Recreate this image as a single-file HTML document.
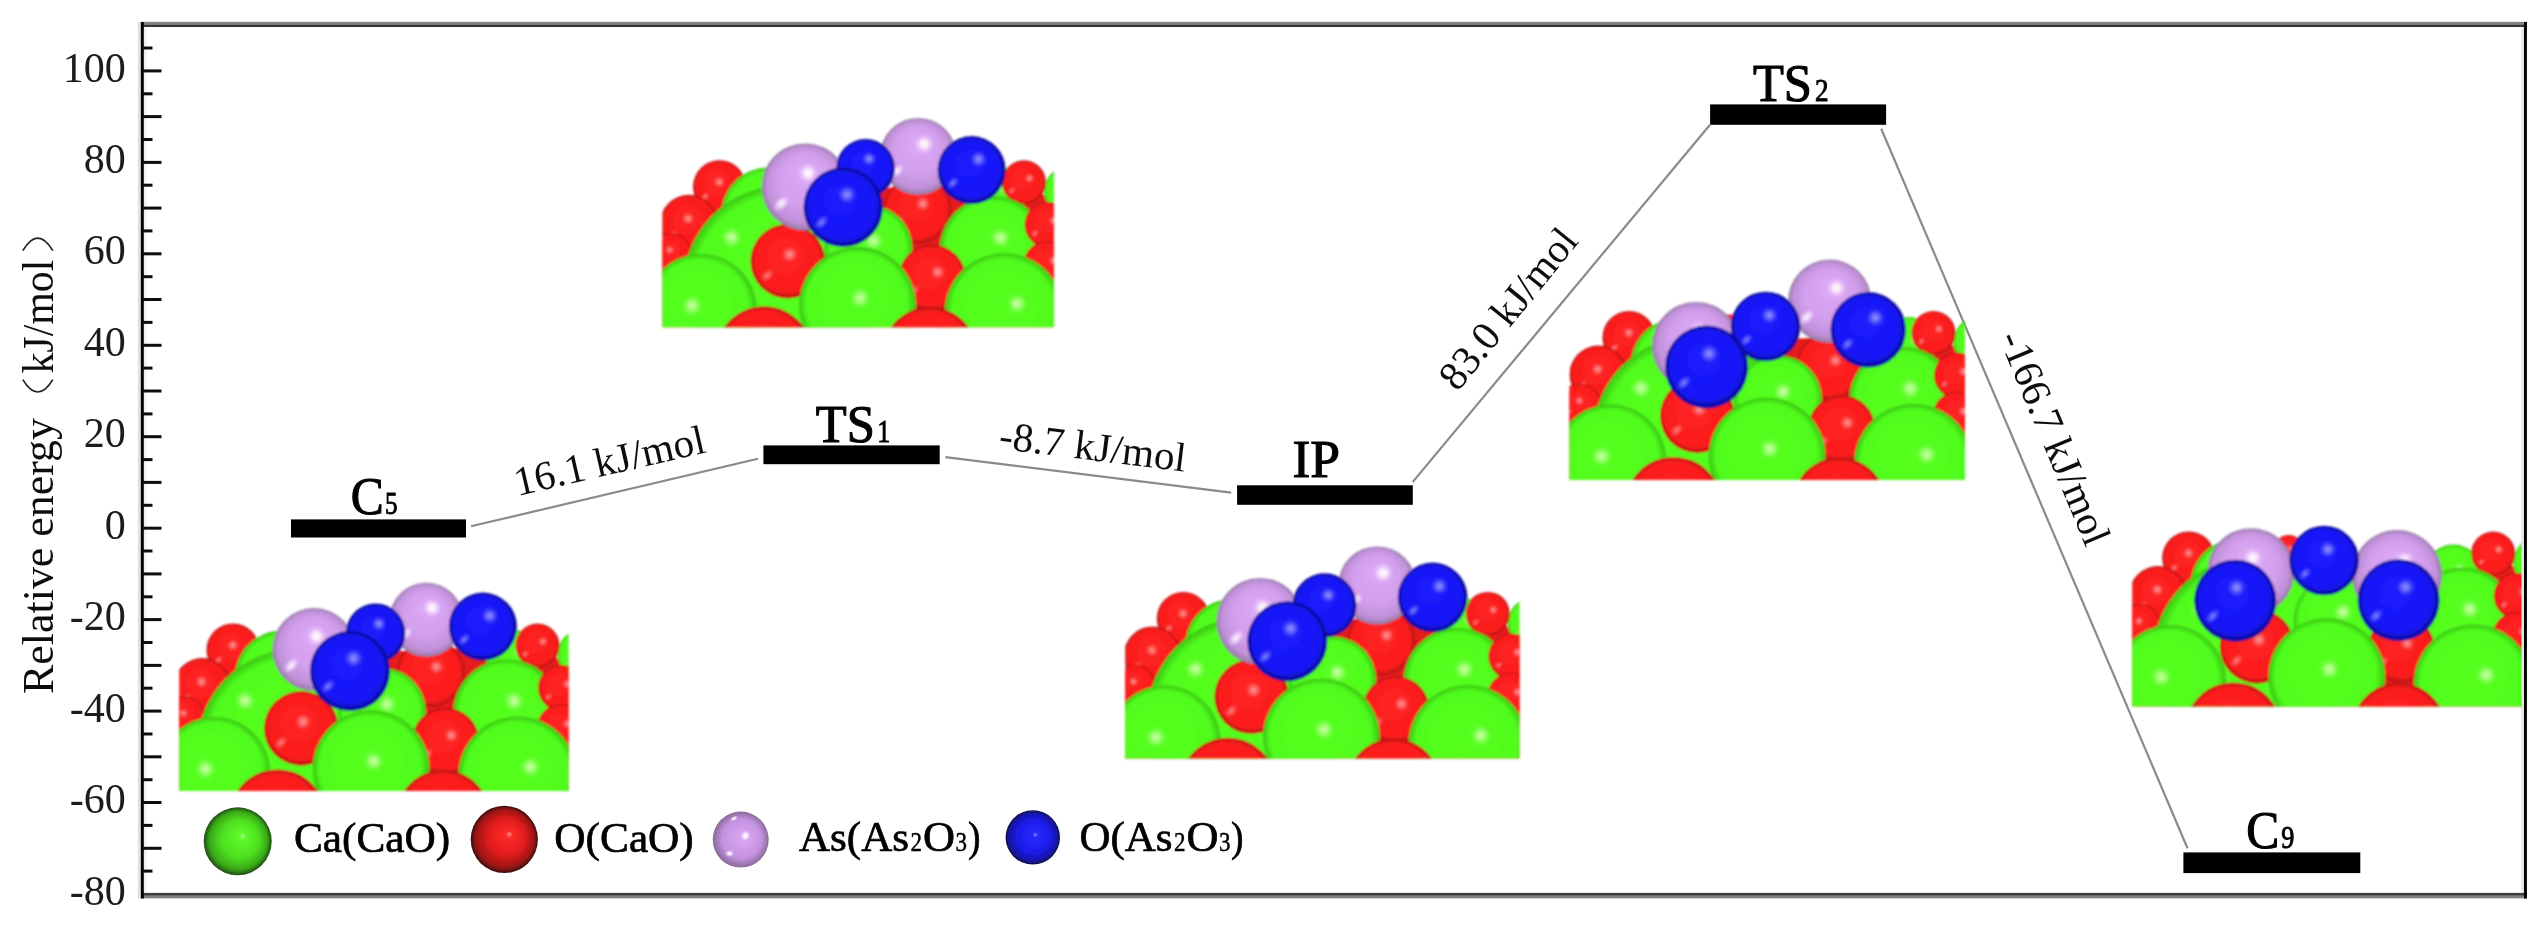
<!DOCTYPE html>
<html><head><meta charset="utf-8"><title>Relative energy profile</title>
<style>
html,body{margin:0;padding:0;background:#fff;}
body{width:2546px;height:926px;overflow:hidden;position:relative;}
svg{position:absolute;left:0;top:0;display:block;}
text{font-family:"Liberation Serif",serif;fill:#000;}
.tk{font-size:42px;fill:#1a1a1a;}
.lb{font-size:52px;stroke:#000;stroke-width:1.1px;}
.sb{font-size:31px;stroke:#000;stroke-width:0.9px;}
.en{font-size:41px;fill:#111;}
.lg{font-size:43px;stroke:#000;stroke-width:0.7px;}
.ls{font-size:27px;stroke:#000;stroke-width:0.5px;}
.yl{font-size:44px;fill:#111;}
</style></head>
<body>
<svg width="2546" height="926" viewBox="0 0 2546 926">
<defs>
<radialGradient id="gG" cx="0.5" cy="0.5" r="0.5" fx="0.44" fy="0.36"><stop offset="0" stop-color="#56ff20"/><stop offset="0.86" stop-color="#50fc1c"/><stop offset="1" stop-color="#3ac414"/></radialGradient>
<radialGradient id="gR" cx="0.5" cy="0.5" r="0.5" fx="0.44" fy="0.36"><stop offset="0" stop-color="#ff2222"/><stop offset="0.86" stop-color="#fc1e1e"/><stop offset="1" stop-color="#b81212"/></radialGradient>
<radialGradient id="gB" cx="0.5" cy="0.5" r="0.5" fx="0.44" fy="0.36"><stop offset="0" stop-color="#1c1cff"/><stop offset="0.84" stop-color="#1717f6"/><stop offset="1" stop-color="#0a0a8a"/></radialGradient>
<radialGradient id="gP" cx="0.5" cy="0.5" r="0.5" fx="0.5" fy="0.3"><stop offset="0" stop-color="#dcaaf6"/><stop offset="0.6" stop-color="#d39fee"/><stop offset="0.88" stop-color="#c090d8"/><stop offset="1" stop-color="#947aa4"/></radialGradient>
<radialGradient id="hG"><stop offset="0" stop-color="#d4ffb0" stop-opacity="0.95"/><stop offset="0.35" stop-color="#b8ff90" stop-opacity="0.75"/><stop offset="0.7" stop-color="#80ff50" stop-opacity="0.3"/><stop offset="1" stop-color="#56ff20" stop-opacity="0"/></radialGradient>
<radialGradient id="hR"><stop offset="0" stop-color="#ffa0a0" stop-opacity="0.95"/><stop offset="0.35" stop-color="#ff8080" stop-opacity="0.75"/><stop offset="0.7" stop-color="#ff5050" stop-opacity="0.3"/><stop offset="1" stop-color="#ff2222" stop-opacity="0"/></radialGradient>
<radialGradient id="hB"><stop offset="0" stop-color="#9a9aff" stop-opacity="0.95"/><stop offset="0.35" stop-color="#7c7cff" stop-opacity="0.75"/><stop offset="0.7" stop-color="#4848ff" stop-opacity="0.3"/><stop offset="1" stop-color="#1c1cff" stop-opacity="0"/></radialGradient>
<radialGradient id="hP"><stop offset="0" stop-color="#ffffff" stop-opacity="1"/><stop offset="0.35" stop-color="#fff0ff" stop-opacity="0.85"/><stop offset="0.7" stop-color="#ecc8fa" stop-opacity="0.35"/><stop offset="1" stop-color="#dcaaf6" stop-opacity="0"/></radialGradient>
<radialGradient id="kG"><stop offset="0" stop-color="#c0ff98" stop-opacity="0.6"/><stop offset="0.5" stop-color="#90ff60" stop-opacity="0.35"/><stop offset="1" stop-color="#56ff20" stop-opacity="0"/></radialGradient>
<radialGradient id="kR"><stop offset="0" stop-color="#ff9898" stop-opacity="0.85"/><stop offset="0.5" stop-color="#ff7070" stop-opacity="0.5"/><stop offset="1" stop-color="#ff2222" stop-opacity="0"/></radialGradient>
<radialGradient id="kB"><stop offset="0" stop-color="#8e8eff" stop-opacity="0.95"/><stop offset="0.5" stop-color="#6a6aff" stop-opacity="0.55"/><stop offset="1" stop-color="#1c1cff" stop-opacity="0"/></radialGradient>
<radialGradient id="kP"><stop offset="0" stop-color="#ffffff" stop-opacity="1"/><stop offset="0.5" stop-color="#fae8ff" stop-opacity="0.6"/><stop offset="1" stop-color="#dcaaf6" stop-opacity="0"/></radialGradient>
<radialGradient id="LG" cx="0.5" cy="0.5" r="0.5" fx="0.58" fy="0.42"><stop offset="0" stop-color="#a0ff80"/><stop offset="0.1" stop-color="#5cfa2a"/><stop offset="0.55" stop-color="#4ee020"/><stop offset="0.85" stop-color="#38a818"/><stop offset="1" stop-color="#204a14"/></radialGradient>
<radialGradient id="LR" cx="0.5" cy="0.5" r="0.5" fx="0.58" fy="0.42"><stop offset="0" stop-color="#ff9a9a"/><stop offset="0.1" stop-color="#ff2a2a"/><stop offset="0.55" stop-color="#e01c1c"/><stop offset="0.85" stop-color="#a01414"/><stop offset="1" stop-color="#401010"/></radialGradient>
<radialGradient id="LP" cx="0.5" cy="0.5" r="0.5" fx="0.58" fy="0.45"><stop offset="0" stop-color="#ffffff"/><stop offset="0.12" stop-color="#d8a6f0"/><stop offset="0.7" stop-color="#c492e0"/><stop offset="1" stop-color="#8a6a98"/></radialGradient>
<radialGradient id="LB" cx="0.5" cy="0.5" r="0.5" fx="0.55" fy="0.45"><stop offset="0" stop-color="#8a8aff"/><stop offset="0.1" stop-color="#2828ff"/><stop offset="0.6" stop-color="#1c1ce8"/><stop offset="0.88" stop-color="#1414a8"/><stop offset="1" stop-color="#101040"/></radialGradient>
<filter id="blurT" x="-2%" y="-2%" width="104%" height="104%"><feGaussianBlur stdDeviation="0.45"/></filter>
<filter id="blurM" x="-5%" y="-5%" width="110%" height="110%"><feGaussianBlur stdDeviation="0.9"/></filter>
</defs>
<g filter="url(#blurT)">
<line x1="471.0" y1="526.3" x2="758.0" y2="458.7" stroke="#8a8a8a" stroke-width="2.2"/>
<line x1="945.4" y1="457.2" x2="1231.2" y2="492.7" stroke="#8a8a8a" stroke-width="2.2"/>
<line x1="1412.6" y1="482.1" x2="1710.0" y2="124.8" stroke="#8a8a8a" stroke-width="2.2"/>
<line x1="1881.2" y1="128.7" x2="2187.5" y2="848.2" stroke="#8a8a8a" stroke-width="2.2"/>
</g>
<clipPath id="clipC5"><rect x="179.2" y="570" width="389.4" height="221.0"/></clipPath>
<g filter="url(#blurM)"><g clip-path="url(#clipC5)">
<polygon points="170.0,705.0 250.0,668.0 330.0,668.0 380.0,652.0 470.0,648.0 575.0,660.0 575.0,805.0 170.0,805.0" fill="#e41a1a"/>
<circle cx="233.0" cy="650.0" r="26.5" fill="url(#gR)"/><circle cx="232.8" cy="645.2" r="7.2" fill="url(#hR)"/><ellipse cx="218.4" cy="660.1" rx="6.6" ry="4.0" transform="rotate(-45 218.4 660.1)" fill="url(#kR)"/>
<circle cx="281.9" cy="677.6" r="47.0" fill="url(#gG)"/><circle cx="283.5" cy="669.1" r="12.5" fill="url(#hG)"/><ellipse cx="256.0" cy="695.5" rx="11.8" ry="7.0" transform="rotate(-45 256.0 695.5)" fill="url(#kG)"/>
<circle cx="512.7" cy="656.9" r="27.3" fill="url(#gG)"/><circle cx="518.8" cy="652.0" r="7.4" fill="url(#hG)"/><ellipse cx="497.7" cy="667.3" rx="6.8" ry="4.1" transform="rotate(-45 497.7 667.3)" fill="url(#kG)"/>
<circle cx="582.2" cy="654.4" r="24.8" fill="url(#gG)"/><circle cx="589.2" cy="649.9" r="6.7" fill="url(#hG)"/><ellipse cx="568.6" cy="663.8" rx="6.2" ry="3.7" transform="rotate(-45 568.6 663.8)" fill="url(#kG)"/>
<circle cx="537.5" cy="645.5" r="22.0" fill="url(#gR)"/><circle cx="542.9" cy="641.5" r="5.9" fill="url(#hR)"/><ellipse cx="525.4" cy="653.9" rx="5.5" ry="3.3" transform="rotate(-45 525.4 653.9)" fill="url(#kR)"/>
<circle cx="202.5" cy="687.0" r="29.0" fill="url(#gR)"/><circle cx="201.6" cy="681.8" r="7.8" fill="url(#hR)"/><ellipse cx="186.6" cy="698.0" rx="7.2" ry="4.3" transform="rotate(-45 186.6 698.0)" fill="url(#kR)"/>
<circle cx="184.3" cy="717.0" r="21.0" fill="url(#gR)"/><circle cx="183.3" cy="713.2" r="5.7" fill="url(#hR)"/><ellipse cx="172.8" cy="725.0" rx="5.2" ry="3.1" transform="rotate(-45 172.8 725.0)" fill="url(#kR)"/>
<circle cx="431.0" cy="673.0" r="34.0" fill="url(#gR)"/><circle cx="436.3" cy="666.9" r="9.2" fill="url(#hR)"/><ellipse cx="412.3" cy="685.9" rx="8.5" ry="5.1" transform="rotate(-45 412.3 685.9)" fill="url(#kR)"/>
<circle cx="296.9" cy="748.8" r="100.0" fill="url(#gG)"/><circle cx="245.0" cy="700.7" r="12.5" fill="url(#hG)"/>
<circle cx="382.0" cy="712.0" r="44.0" fill="url(#gG)"/><circle cx="387.1" cy="704.1" r="11.9" fill="url(#hG)"/><ellipse cx="357.8" cy="728.7" rx="11.0" ry="6.6" transform="rotate(-45 357.8 728.7)" fill="url(#kG)"/>
<circle cx="507.0" cy="713.5" r="54.0" fill="url(#gG)"/><circle cx="514.0" cy="701.0" r="12.5" fill="url(#hG)"/>
<circle cx="561.0" cy="688.0" r="23.0" fill="url(#gR)"/><circle cx="567.1" cy="683.9" r="6.2" fill="url(#hR)"/><ellipse cx="548.4" cy="696.7" rx="5.8" ry="3.4" transform="rotate(-45 548.4 696.7)" fill="url(#kR)"/>
<circle cx="561.0" cy="728.0" r="24.0" fill="url(#gR)"/><circle cx="567.3" cy="723.7" r="6.5" fill="url(#hR)"/><ellipse cx="547.8" cy="737.1" rx="6.0" ry="3.6" transform="rotate(-45 547.8 737.1)" fill="url(#kR)"/>
<circle cx="214.5" cy="772.8" r="55.7" fill="url(#gG)"/><circle cx="205.5" cy="769.0" r="12.5" fill="url(#hG)"/>
<circle cx="301.3" cy="728.4" r="37.3" fill="url(#gR)"/><circle cx="303.2" cy="721.7" r="10.1" fill="url(#hR)"/><ellipse cx="280.8" cy="742.6" rx="9.3" ry="5.6" transform="rotate(-45 280.8 742.6)" fill="url(#kR)"/>
<circle cx="445.6" cy="741.3" r="33.5" fill="url(#gR)"/><circle cx="451.3" cy="735.3" r="9.0" fill="url(#hR)"/><ellipse cx="427.2" cy="754.0" rx="8.4" ry="5.0" transform="rotate(-45 427.2 754.0)" fill="url(#kR)"/>
<circle cx="371.1" cy="768.7" r="58.4" fill="url(#gG)"/><circle cx="373.6" cy="761.2" r="12.5" fill="url(#hG)"/>
<circle cx="517.7" cy="776.1" r="59.6" fill="url(#gG)"/><circle cx="530.5" cy="767.0" r="12.5" fill="url(#hG)"/>
<circle cx="277.6" cy="818.0" r="48.6" fill="url(#gR)"/><circle cx="279.1" cy="809.3" r="12.5" fill="url(#hR)"/><ellipse cx="250.9" cy="836.5" rx="12.2" ry="7.3" transform="rotate(-45 250.9 836.5)" fill="url(#kR)"/>
<circle cx="443.2" cy="817.0" r="47.0" fill="url(#gR)"/><circle cx="451.1" cy="808.5" r="12.5" fill="url(#hR)"/><ellipse cx="417.3" cy="834.9" rx="11.8" ry="7.0" transform="rotate(-45 417.3 834.9)" fill="url(#kR)"/>
<circle cx="314.0" cy="649.6" r="41.5" fill="url(#gP)"/><circle cx="316.5" cy="636.3" r="11.5" fill="url(#hP)"/><ellipse cx="291.2" cy="665.4" rx="10.4" ry="6.2" transform="rotate(-45 291.2 665.4)" fill="url(#kP)"/>
<circle cx="426.3" cy="619.7" r="37.0" fill="url(#gP)"/><circle cx="432.0" cy="607.9" r="11.1" fill="url(#hP)"/><ellipse cx="405.9" cy="633.8" rx="9.2" ry="5.5" transform="rotate(-45 405.9 633.8)" fill="url(#kP)"/>
<circle cx="375.6" cy="633.3" r="29.8" fill="url(#gB)"/><circle cx="378.9" cy="623.8" r="8.9" fill="url(#hB)"/><ellipse cx="359.2" cy="644.6" rx="7.5" ry="4.5" transform="rotate(-45 359.2 644.6)" fill="url(#kB)"/>
<circle cx="350.0" cy="671.1" r="40.0" fill="url(#gB)"/><circle cx="353.6" cy="658.3" r="11.5" fill="url(#hB)"/><ellipse cx="328.0" cy="686.3" rx="10.0" ry="6.0" transform="rotate(-45 328.0 686.3)" fill="url(#kB)"/>
<circle cx="482.9" cy="626.6" r="34.0" fill="url(#gB)"/><circle cx="489.7" cy="615.7" r="10.2" fill="url(#hB)"/><ellipse cx="464.2" cy="639.5" rx="8.5" ry="5.1" transform="rotate(-45 464.2 639.5)" fill="url(#kB)"/>
</g></g>
<clipPath id="clipTS1"><rect x="662.4" y="100" width="391.6" height="227.2"/></clipPath>
<g filter="url(#blurM)"><g clip-path="url(#clipTS1)">
<polygon points="656.5,241.8 736.5,204.8 816.5,204.8 866.5,188.8 956.5,184.8 1061.5,196.8 1061.5,341.8 656.5,341.8" fill="#e41a1a"/>
<circle cx="719.5" cy="186.8" r="26.5" fill="url(#gR)"/><circle cx="719.3" cy="182.0" r="7.2" fill="url(#hR)"/><ellipse cx="704.9" cy="196.9" rx="6.6" ry="4.0" transform="rotate(-45 704.9 196.9)" fill="url(#kR)"/>
<circle cx="768.4" cy="214.4" r="47.0" fill="url(#gG)"/><circle cx="770.0" cy="205.9" r="12.5" fill="url(#hG)"/><ellipse cx="742.5" cy="232.3" rx="11.8" ry="7.0" transform="rotate(-45 742.5 232.3)" fill="url(#kG)"/>
<circle cx="999.2" cy="193.7" r="27.3" fill="url(#gG)"/><circle cx="1005.3" cy="188.8" r="7.4" fill="url(#hG)"/><ellipse cx="984.2" cy="204.1" rx="6.8" ry="4.1" transform="rotate(-45 984.2 204.1)" fill="url(#kG)"/>
<circle cx="1068.7" cy="191.2" r="24.8" fill="url(#gG)"/><circle cx="1075.7" cy="186.7" r="6.7" fill="url(#hG)"/><ellipse cx="1055.1" cy="200.6" rx="6.2" ry="3.7" transform="rotate(-45 1055.1 200.6)" fill="url(#kG)"/>
<circle cx="1024.0" cy="182.3" r="22.0" fill="url(#gR)"/><circle cx="1029.4" cy="178.3" r="5.9" fill="url(#hR)"/><ellipse cx="1011.9" cy="190.7" rx="5.5" ry="3.3" transform="rotate(-45 1011.9 190.7)" fill="url(#kR)"/>
<circle cx="689.0" cy="223.8" r="29.0" fill="url(#gR)"/><circle cx="688.1" cy="218.6" r="7.8" fill="url(#hR)"/><ellipse cx="673.0" cy="234.8" rx="7.2" ry="4.3" transform="rotate(-45 673.0 234.8)" fill="url(#kR)"/>
<circle cx="670.8" cy="253.8" r="21.0" fill="url(#gR)"/><circle cx="669.8" cy="250.0" r="5.7" fill="url(#hR)"/><ellipse cx="659.2" cy="261.8" rx="5.2" ry="3.1" transform="rotate(-45 659.2 261.8)" fill="url(#kR)"/>
<circle cx="917.5" cy="209.8" r="34.0" fill="url(#gR)"/><circle cx="922.8" cy="203.7" r="9.2" fill="url(#hR)"/><ellipse cx="898.8" cy="222.7" rx="8.5" ry="5.1" transform="rotate(-45 898.8 222.7)" fill="url(#kR)"/>
<circle cx="783.4" cy="285.6" r="100.0" fill="url(#gG)"/><circle cx="731.5" cy="237.5" r="12.5" fill="url(#hG)"/>
<circle cx="868.5" cy="248.8" r="44.0" fill="url(#gG)"/><circle cx="873.6" cy="240.9" r="11.9" fill="url(#hG)"/><ellipse cx="844.3" cy="265.5" rx="11.0" ry="6.6" transform="rotate(-45 844.3 265.5)" fill="url(#kG)"/>
<circle cx="993.5" cy="250.3" r="54.0" fill="url(#gG)"/><circle cx="1000.5" cy="237.8" r="12.5" fill="url(#hG)"/>
<circle cx="1047.5" cy="224.8" r="23.0" fill="url(#gR)"/><circle cx="1053.6" cy="220.7" r="6.2" fill="url(#hR)"/><ellipse cx="1034.8" cy="233.5" rx="5.8" ry="3.4" transform="rotate(-45 1034.8 233.5)" fill="url(#kR)"/>
<circle cx="1047.5" cy="264.8" r="24.0" fill="url(#gR)"/><circle cx="1053.8" cy="260.5" r="6.5" fill="url(#hR)"/><ellipse cx="1034.3" cy="273.9" rx="6.0" ry="3.6" transform="rotate(-45 1034.3 273.9)" fill="url(#kR)"/>
<circle cx="701.0" cy="309.6" r="55.7" fill="url(#gG)"/><circle cx="692.0" cy="305.8" r="12.5" fill="url(#hG)"/>
<circle cx="787.8" cy="261.2" r="37.3" fill="url(#gR)"/><circle cx="789.7" cy="254.5" r="10.1" fill="url(#hR)"/><ellipse cx="767.3" cy="275.4" rx="9.3" ry="5.6" transform="rotate(-45 767.3 275.4)" fill="url(#kR)"/>
<circle cx="932.1" cy="278.1" r="33.5" fill="url(#gR)"/><circle cx="937.8" cy="272.1" r="9.0" fill="url(#hR)"/><ellipse cx="913.7" cy="290.8" rx="8.4" ry="5.0" transform="rotate(-45 913.7 290.8)" fill="url(#kR)"/>
<circle cx="857.6" cy="305.5" r="58.4" fill="url(#gG)"/><circle cx="860.1" cy="298.0" r="12.5" fill="url(#hG)"/>
<circle cx="1004.2" cy="312.9" r="59.6" fill="url(#gG)"/><circle cx="1017.0" cy="303.8" r="12.5" fill="url(#hG)"/>
<circle cx="764.1" cy="354.8" r="48.6" fill="url(#gR)"/><circle cx="765.6" cy="346.1" r="12.5" fill="url(#hR)"/><ellipse cx="737.4" cy="373.3" rx="12.2" ry="7.3" transform="rotate(-45 737.4 373.3)" fill="url(#kR)"/>
<circle cx="929.7" cy="353.8" r="47.0" fill="url(#gR)"/><circle cx="937.6" cy="345.3" r="12.5" fill="url(#hR)"/><ellipse cx="903.9" cy="371.7" rx="11.8" ry="7.0" transform="rotate(-45 903.9 371.7)" fill="url(#kR)"/>
<circle cx="805.2" cy="187.0" r="43.5" fill="url(#gP)"/><circle cx="808.1" cy="173.1" r="11.5" fill="url(#hP)"/><ellipse cx="781.3" cy="203.5" rx="10.9" ry="6.5" transform="rotate(-45 781.3 203.5)" fill="url(#kP)"/>
<circle cx="918.2" cy="156.4" r="38.5" fill="url(#gP)"/><circle cx="924.3" cy="144.1" r="11.5" fill="url(#hP)"/><ellipse cx="897.0" cy="171.0" rx="9.6" ry="5.8" transform="rotate(-45 897.0 171.0)" fill="url(#kP)"/>
<circle cx="865.6" cy="168.3" r="29.3" fill="url(#gB)"/><circle cx="869.0" cy="158.9" r="8.8" fill="url(#hB)"/><ellipse cx="849.5" cy="179.4" rx="7.3" ry="4.4" transform="rotate(-45 849.5 179.4)" fill="url(#kB)"/>
<circle cx="843.2" cy="207.3" r="39.7" fill="url(#gB)"/><circle cx="847.1" cy="194.6" r="11.5" fill="url(#hB)"/><ellipse cx="821.4" cy="222.4" rx="9.9" ry="6.0" transform="rotate(-45 821.4 222.4)" fill="url(#kB)"/>
<circle cx="971.6" cy="170.1" r="34.0" fill="url(#gB)"/><circle cx="978.5" cy="159.2" r="10.2" fill="url(#hB)"/><ellipse cx="952.9" cy="183.0" rx="8.5" ry="5.1" transform="rotate(-45 952.9 183.0)" fill="url(#kB)"/>
</g></g>
<clipPath id="clipIP"><rect x="1125.2" y="530" width="394.3" height="228.5"/></clipPath>
<g filter="url(#blurM)"><g clip-path="url(#clipIP)">
<polygon points="1120.3,673.4 1200.3,636.4 1280.3,636.4 1330.3,620.4 1420.3,616.4 1525.3,628.4 1525.3,773.4 1120.3,773.4" fill="#e41a1a"/>
<circle cx="1183.3" cy="618.4" r="26.5" fill="url(#gR)"/><circle cx="1183.1" cy="613.6" r="7.2" fill="url(#hR)"/><ellipse cx="1168.7" cy="628.5" rx="6.6" ry="4.0" transform="rotate(-45 1168.7 628.5)" fill="url(#kR)"/>
<circle cx="1232.2" cy="646.0" r="47.0" fill="url(#gG)"/><circle cx="1233.8" cy="637.5" r="12.5" fill="url(#hG)"/><ellipse cx="1206.3" cy="663.9" rx="11.8" ry="7.0" transform="rotate(-45 1206.3 663.9)" fill="url(#kG)"/>
<circle cx="1463.0" cy="625.3" r="27.3" fill="url(#gG)"/><circle cx="1469.1" cy="620.4" r="7.4" fill="url(#hG)"/><ellipse cx="1448.0" cy="635.7" rx="6.8" ry="4.1" transform="rotate(-45 1448.0 635.7)" fill="url(#kG)"/>
<circle cx="1532.5" cy="622.8" r="24.8" fill="url(#gG)"/><circle cx="1539.5" cy="618.3" r="6.7" fill="url(#hG)"/><ellipse cx="1518.9" cy="632.2" rx="6.2" ry="3.7" transform="rotate(-45 1518.9 632.2)" fill="url(#kG)"/>
<circle cx="1487.8" cy="613.9" r="22.0" fill="url(#gR)"/><circle cx="1493.2" cy="609.9" r="5.9" fill="url(#hR)"/><ellipse cx="1475.7" cy="622.3" rx="5.5" ry="3.3" transform="rotate(-45 1475.7 622.3)" fill="url(#kR)"/>
<circle cx="1152.8" cy="655.4" r="29.0" fill="url(#gR)"/><circle cx="1151.9" cy="650.2" r="7.8" fill="url(#hR)"/><ellipse cx="1136.8" cy="666.4" rx="7.2" ry="4.3" transform="rotate(-45 1136.8 666.4)" fill="url(#kR)"/>
<circle cx="1134.6" cy="685.4" r="21.0" fill="url(#gR)"/><circle cx="1133.6" cy="681.6" r="5.7" fill="url(#hR)"/><ellipse cx="1123.0" cy="693.4" rx="5.2" ry="3.1" transform="rotate(-45 1123.0 693.4)" fill="url(#kR)"/>
<circle cx="1381.3" cy="641.4" r="34.0" fill="url(#gR)"/><circle cx="1386.6" cy="635.3" r="9.2" fill="url(#hR)"/><ellipse cx="1362.6" cy="654.3" rx="8.5" ry="5.1" transform="rotate(-45 1362.6 654.3)" fill="url(#kR)"/>
<circle cx="1247.2" cy="717.2" r="100.0" fill="url(#gG)"/><circle cx="1195.3" cy="669.1" r="12.5" fill="url(#hG)"/>
<circle cx="1332.3" cy="680.4" r="44.0" fill="url(#gG)"/><circle cx="1337.4" cy="672.5" r="11.9" fill="url(#hG)"/><ellipse cx="1308.1" cy="697.1" rx="11.0" ry="6.6" transform="rotate(-45 1308.1 697.1)" fill="url(#kG)"/>
<circle cx="1457.3" cy="681.9" r="54.0" fill="url(#gG)"/><circle cx="1464.3" cy="669.4" r="12.5" fill="url(#hG)"/>
<circle cx="1511.3" cy="656.4" r="23.0" fill="url(#gR)"/><circle cx="1517.4" cy="652.3" r="6.2" fill="url(#hR)"/><ellipse cx="1498.6" cy="665.1" rx="5.8" ry="3.4" transform="rotate(-45 1498.6 665.1)" fill="url(#kR)"/>
<circle cx="1511.3" cy="696.4" r="24.0" fill="url(#gR)"/><circle cx="1517.6" cy="692.1" r="6.5" fill="url(#hR)"/><ellipse cx="1498.1" cy="705.5" rx="6.0" ry="3.6" transform="rotate(-45 1498.1 705.5)" fill="url(#kR)"/>
<circle cx="1164.8" cy="741.2" r="55.7" fill="url(#gG)"/><circle cx="1155.8" cy="737.4" r="12.5" fill="url(#hG)"/>
<circle cx="1251.6" cy="696.8" r="37.3" fill="url(#gR)"/><circle cx="1253.5" cy="690.1" r="10.1" fill="url(#hR)"/><ellipse cx="1231.1" cy="711.0" rx="9.3" ry="5.6" transform="rotate(-45 1231.1 711.0)" fill="url(#kR)"/>
<circle cx="1395.9" cy="709.7" r="33.5" fill="url(#gR)"/><circle cx="1401.6" cy="703.7" r="9.0" fill="url(#hR)"/><ellipse cx="1377.5" cy="722.4" rx="8.4" ry="5.0" transform="rotate(-45 1377.5 722.4)" fill="url(#kR)"/>
<circle cx="1321.4" cy="737.1" r="58.4" fill="url(#gG)"/><circle cx="1323.9" cy="729.6" r="12.5" fill="url(#hG)"/>
<circle cx="1468.0" cy="744.5" r="59.6" fill="url(#gG)"/><circle cx="1480.8" cy="735.4" r="12.5" fill="url(#hG)"/>
<circle cx="1227.9" cy="786.4" r="48.6" fill="url(#gR)"/><circle cx="1229.4" cy="777.7" r="12.5" fill="url(#hR)"/><ellipse cx="1201.2" cy="804.9" rx="12.2" ry="7.3" transform="rotate(-45 1201.2 804.9)" fill="url(#kR)"/>
<circle cx="1393.5" cy="785.4" r="47.0" fill="url(#gR)"/><circle cx="1401.4" cy="776.9" r="12.5" fill="url(#hR)"/><ellipse cx="1367.7" cy="803.3" rx="11.8" ry="7.0" transform="rotate(-45 1367.7 803.3)" fill="url(#kR)"/>
<circle cx="1260.0" cy="621.4" r="43.5" fill="url(#gP)"/><circle cx="1262.6" cy="607.5" r="11.5" fill="url(#hP)"/><ellipse cx="1236.1" cy="637.9" rx="10.9" ry="6.5" transform="rotate(-45 1236.1 637.9)" fill="url(#kP)"/>
<circle cx="1377.2" cy="585.4" r="39.0" fill="url(#gP)"/><circle cx="1383.2" cy="572.9" r="11.5" fill="url(#hP)"/><ellipse cx="1355.8" cy="600.2" rx="9.8" ry="5.8" transform="rotate(-45 1355.8 600.2)" fill="url(#kP)"/>
<circle cx="1324.6" cy="605.3" r="32.0" fill="url(#gB)"/><circle cx="1328.2" cy="595.1" r="9.6" fill="url(#hB)"/><ellipse cx="1307.0" cy="617.5" rx="8.0" ry="4.8" transform="rotate(-45 1307.0 617.5)" fill="url(#kB)"/>
<circle cx="1287.3" cy="641.3" r="40.0" fill="url(#gB)"/><circle cx="1290.6" cy="628.5" r="11.5" fill="url(#hB)"/><ellipse cx="1265.3" cy="656.5" rx="10.0" ry="6.0" transform="rotate(-45 1265.3 656.5)" fill="url(#kB)"/>
<circle cx="1432.6" cy="597.3" r="34.8" fill="url(#gB)"/><circle cx="1439.5" cy="586.2" r="10.4" fill="url(#hB)"/><ellipse cx="1413.5" cy="610.5" rx="8.7" ry="5.2" transform="rotate(-45 1413.5 610.5)" fill="url(#kB)"/>
</g></g>
<clipPath id="clipTS2"><rect x="1569.4" y="250" width="395.6" height="230.0"/></clipPath>
<g filter="url(#blurM)"><g clip-path="url(#clipTS2)">
<polygon points="1566.0,392.5 1646.0,355.5 1726.0,355.5 1776.0,339.5 1866.0,335.5 1971.0,347.5 1971.0,492.5 1566.0,492.5" fill="#e41a1a"/>
<circle cx="1629.0" cy="337.5" r="26.5" fill="url(#gR)"/><circle cx="1628.8" cy="332.7" r="7.2" fill="url(#hR)"/><ellipse cx="1614.4" cy="347.6" rx="6.6" ry="4.0" transform="rotate(-45 1614.4 347.6)" fill="url(#kR)"/>
<circle cx="1677.9" cy="365.1" r="47.0" fill="url(#gG)"/><circle cx="1679.5" cy="356.6" r="12.5" fill="url(#hG)"/><ellipse cx="1652.1" cy="383.0" rx="11.8" ry="7.0" transform="rotate(-45 1652.1 383.0)" fill="url(#kG)"/>
<circle cx="1729.0" cy="330.5" r="16.0" fill="url(#gR)"/><circle cx="1730.2" cy="327.6" r="4.3" fill="url(#hR)"/><ellipse cx="1720.2" cy="336.6" rx="4.0" ry="2.4" transform="rotate(-45 1720.2 336.6)" fill="url(#kR)"/>
<circle cx="1908.7" cy="344.4" r="27.3" fill="url(#gG)"/><circle cx="1914.8" cy="339.5" r="7.4" fill="url(#hG)"/><ellipse cx="1893.7" cy="354.8" rx="6.8" ry="4.1" transform="rotate(-45 1893.7 354.8)" fill="url(#kG)"/>
<circle cx="1978.2" cy="341.9" r="24.8" fill="url(#gG)"/><circle cx="1985.2" cy="337.4" r="6.7" fill="url(#hG)"/><ellipse cx="1964.6" cy="351.3" rx="6.2" ry="3.7" transform="rotate(-45 1964.6 351.3)" fill="url(#kG)"/>
<circle cx="1933.5" cy="333.0" r="22.0" fill="url(#gR)"/><circle cx="1938.9" cy="329.0" r="5.9" fill="url(#hR)"/><ellipse cx="1921.4" cy="341.4" rx="5.5" ry="3.3" transform="rotate(-45 1921.4 341.4)" fill="url(#kR)"/>
<circle cx="1598.5" cy="374.5" r="29.0" fill="url(#gR)"/><circle cx="1597.6" cy="369.3" r="7.8" fill="url(#hR)"/><ellipse cx="1582.5" cy="385.5" rx="7.2" ry="4.3" transform="rotate(-45 1582.5 385.5)" fill="url(#kR)"/>
<circle cx="1580.3" cy="404.5" r="21.0" fill="url(#gR)"/><circle cx="1579.3" cy="400.7" r="5.7" fill="url(#hR)"/><ellipse cx="1568.8" cy="412.5" rx="5.2" ry="3.1" transform="rotate(-45 1568.8 412.5)" fill="url(#kR)"/>
<circle cx="1830.0" cy="366.5" r="34.0" fill="url(#gR)"/><circle cx="1835.4" cy="360.4" r="9.2" fill="url(#hR)"/><ellipse cx="1811.3" cy="379.4" rx="8.5" ry="5.1" transform="rotate(-45 1811.3 379.4)" fill="url(#kR)"/>
<circle cx="1692.9" cy="436.3" r="100.0" fill="url(#gG)"/><circle cx="1641.0" cy="388.2" r="12.5" fill="url(#hG)"/>
<circle cx="1778.0" cy="399.5" r="44.0" fill="url(#gG)"/><circle cx="1783.1" cy="391.6" r="11.9" fill="url(#hG)"/><ellipse cx="1753.8" cy="416.2" rx="11.0" ry="6.6" transform="rotate(-45 1753.8 416.2)" fill="url(#kG)"/>
<circle cx="1903.0" cy="401.0" r="54.0" fill="url(#gG)"/><circle cx="1910.0" cy="388.5" r="12.5" fill="url(#hG)"/>
<circle cx="1957.0" cy="375.5" r="23.0" fill="url(#gR)"/><circle cx="1963.1" cy="371.4" r="6.2" fill="url(#hR)"/><ellipse cx="1944.3" cy="384.2" rx="5.8" ry="3.4" transform="rotate(-45 1944.3 384.2)" fill="url(#kR)"/>
<circle cx="1957.0" cy="415.5" r="24.0" fill="url(#gR)"/><circle cx="1963.3" cy="411.2" r="6.5" fill="url(#hR)"/><ellipse cx="1943.8" cy="424.6" rx="6.0" ry="3.6" transform="rotate(-45 1943.8 424.6)" fill="url(#kR)"/>
<circle cx="1610.5" cy="460.3" r="55.7" fill="url(#gG)"/><circle cx="1601.5" cy="456.5" r="12.5" fill="url(#hG)"/>
<circle cx="1697.3" cy="415.9" r="37.3" fill="url(#gR)"/><circle cx="1699.2" cy="409.2" r="10.1" fill="url(#hR)"/><ellipse cx="1676.8" cy="430.1" rx="9.3" ry="5.6" transform="rotate(-45 1676.8 430.1)" fill="url(#kR)"/>
<circle cx="1841.6" cy="428.8" r="33.5" fill="url(#gR)"/><circle cx="1847.3" cy="422.8" r="9.0" fill="url(#hR)"/><ellipse cx="1823.2" cy="441.5" rx="8.4" ry="5.0" transform="rotate(-45 1823.2 441.5)" fill="url(#kR)"/>
<circle cx="1767.1" cy="456.2" r="58.4" fill="url(#gG)"/><circle cx="1769.6" cy="448.7" r="12.5" fill="url(#hG)"/>
<circle cx="1913.7" cy="463.6" r="59.6" fill="url(#gG)"/><circle cx="1926.5" cy="454.5" r="12.5" fill="url(#hG)"/>
<circle cx="1673.6" cy="505.5" r="48.6" fill="url(#gR)"/><circle cx="1675.1" cy="496.8" r="12.5" fill="url(#hR)"/><ellipse cx="1646.9" cy="524.0" rx="12.2" ry="7.3" transform="rotate(-45 1646.9 524.0)" fill="url(#kR)"/>
<circle cx="1839.2" cy="504.5" r="47.0" fill="url(#gR)"/><circle cx="1847.1" cy="496.0" r="12.5" fill="url(#hR)"/><ellipse cx="1813.4" cy="522.4" rx="11.8" ry="7.0" transform="rotate(-45 1813.4 522.4)" fill="url(#kR)"/>
<circle cx="1696.0" cy="346.0" r="44.0" fill="url(#gP)"/><circle cx="1698.3" cy="331.9" r="11.5" fill="url(#hP)"/><ellipse cx="1671.8" cy="362.7" rx="11.0" ry="6.6" transform="rotate(-45 1671.8 362.7)" fill="url(#kP)"/>
<circle cx="1829.7" cy="301.2" r="41.7" fill="url(#gP)"/><circle cx="1836.4" cy="287.9" r="11.5" fill="url(#hP)"/><ellipse cx="1806.8" cy="317.0" rx="10.4" ry="6.3" transform="rotate(-45 1806.8 317.0)" fill="url(#kP)"/>
<circle cx="1765.6" cy="326.5" r="34.8" fill="url(#gB)"/><circle cx="1769.4" cy="315.4" r="10.4" fill="url(#hB)"/><ellipse cx="1746.5" cy="339.7" rx="8.7" ry="5.2" transform="rotate(-45 1746.5 339.7)" fill="url(#kB)"/>
<circle cx="1706.6" cy="367.0" r="41.5" fill="url(#gB)"/><circle cx="1709.1" cy="353.7" r="11.5" fill="url(#hB)"/><ellipse cx="1683.8" cy="382.8" rx="10.4" ry="6.2" transform="rotate(-45 1683.8 382.8)" fill="url(#kB)"/>
<circle cx="1868.2" cy="329.8" r="37.7" fill="url(#gB)"/><circle cx="1875.4" cy="317.7" r="11.3" fill="url(#hB)"/><ellipse cx="1847.5" cy="344.1" rx="9.4" ry="5.7" transform="rotate(-45 1847.5 344.1)" fill="url(#kB)"/>
</g></g>
<clipPath id="clipC9"><rect x="2132.2" y="490" width="391.8" height="216.5"/></clipPath>
<g filter="url(#blurM)"><g clip-path="url(#clipC9)">
<polygon points="2125.7,613.0 2205.7,576.0 2285.7,576.0 2335.7,560.0 2425.7,556.0 2530.7,568.0 2530.7,713.0 2125.7,713.0" fill="#e41a1a"/>
<circle cx="2188.7" cy="558.0" r="26.5" fill="url(#gR)"/><circle cx="2188.5" cy="553.2" r="7.2" fill="url(#hR)"/><ellipse cx="2174.1" cy="568.1" rx="6.6" ry="4.0" transform="rotate(-45 2174.1 568.1)" fill="url(#kR)"/>
<circle cx="2237.6" cy="585.6" r="47.0" fill="url(#gG)"/><circle cx="2239.2" cy="577.1" r="12.5" fill="url(#hG)"/><ellipse cx="2211.8" cy="603.5" rx="11.8" ry="7.0" transform="rotate(-45 2211.8 603.5)" fill="url(#kG)"/>
<circle cx="2288.7" cy="551.0" r="16.0" fill="url(#gR)"/><circle cx="2289.9" cy="548.1" r="4.3" fill="url(#hR)"/><ellipse cx="2279.9" cy="557.1" rx="4.0" ry="2.4" transform="rotate(-45 2279.9 557.1)" fill="url(#kR)"/>
<circle cx="2453.4" cy="574.9" r="30.3" fill="url(#gG)"/><circle cx="2459.8" cy="569.4" r="8.2" fill="url(#hG)"/><ellipse cx="2436.7" cy="586.4" rx="7.6" ry="4.5" transform="rotate(-45 2436.7 586.4)" fill="url(#kG)"/>
<circle cx="2537.9" cy="562.4" r="24.8" fill="url(#gG)"/><circle cx="2544.9" cy="557.9" r="6.7" fill="url(#hG)"/><ellipse cx="2524.3" cy="571.8" rx="6.2" ry="3.7" transform="rotate(-45 2524.3 571.8)" fill="url(#kG)"/>
<circle cx="2493.2" cy="553.5" r="22.0" fill="url(#gR)"/><circle cx="2498.6" cy="549.5" r="5.9" fill="url(#hR)"/><ellipse cx="2481.1" cy="561.9" rx="5.5" ry="3.3" transform="rotate(-45 2481.1 561.9)" fill="url(#kR)"/>
<circle cx="2158.2" cy="595.0" r="29.0" fill="url(#gR)"/><circle cx="2157.3" cy="589.8" r="7.8" fill="url(#hR)"/><ellipse cx="2142.2" cy="606.0" rx="7.2" ry="4.3" transform="rotate(-45 2142.2 606.0)" fill="url(#kR)"/>
<circle cx="2140.0" cy="625.0" r="21.0" fill="url(#gR)"/><circle cx="2139.0" cy="621.2" r="5.7" fill="url(#hR)"/><ellipse cx="2128.4" cy="633.0" rx="5.2" ry="3.1" transform="rotate(-45 2128.4 633.0)" fill="url(#kR)"/>
<circle cx="2386.7" cy="581.0" r="34.0" fill="url(#gR)"/><circle cx="2392.0" cy="574.9" r="9.2" fill="url(#hR)"/><ellipse cx="2368.0" cy="593.9" rx="8.5" ry="5.1" transform="rotate(-45 2368.0 593.9)" fill="url(#kR)"/>
<circle cx="2252.6" cy="656.8" r="100.0" fill="url(#gG)"/><circle cx="2200.7" cy="608.7" r="12.5" fill="url(#hG)"/>
<circle cx="2337.7" cy="620.0" r="44.0" fill="url(#gG)"/><circle cx="2342.8" cy="612.1" r="11.9" fill="url(#hG)"/><ellipse cx="2313.5" cy="636.7" rx="11.0" ry="6.6" transform="rotate(-45 2313.5 636.7)" fill="url(#kG)"/>
<circle cx="2462.7" cy="621.5" r="54.0" fill="url(#gG)"/><circle cx="2469.7" cy="609.0" r="12.5" fill="url(#hG)"/>
<circle cx="2516.7" cy="596.0" r="23.0" fill="url(#gR)"/><circle cx="2522.8" cy="591.9" r="6.2" fill="url(#hR)"/><ellipse cx="2504.0" cy="604.7" rx="5.8" ry="3.4" transform="rotate(-45 2504.0 604.7)" fill="url(#kR)"/>
<circle cx="2516.7" cy="636.0" r="24.0" fill="url(#gR)"/><circle cx="2523.0" cy="631.7" r="6.5" fill="url(#hR)"/><ellipse cx="2503.5" cy="645.1" rx="6.0" ry="3.6" transform="rotate(-45 2503.5 645.1)" fill="url(#kR)"/>
<circle cx="2170.2" cy="680.8" r="55.7" fill="url(#gG)"/><circle cx="2161.2" cy="677.0" r="12.5" fill="url(#hG)"/>
<circle cx="2257.0" cy="646.4" r="37.3" fill="url(#gR)"/><circle cx="2258.9" cy="639.7" r="10.1" fill="url(#hR)"/><ellipse cx="2236.5" cy="660.6" rx="9.3" ry="5.6" transform="rotate(-45 2236.5 660.6)" fill="url(#kR)"/>
<circle cx="2401.3" cy="649.3" r="33.5" fill="url(#gR)"/><circle cx="2407.0" cy="643.3" r="9.0" fill="url(#hR)"/><ellipse cx="2382.9" cy="662.0" rx="8.4" ry="5.0" transform="rotate(-45 2382.9 662.0)" fill="url(#kR)"/>
<circle cx="2326.8" cy="676.7" r="58.4" fill="url(#gG)"/><circle cx="2329.3" cy="669.2" r="12.5" fill="url(#hG)"/>
<circle cx="2473.4" cy="684.1" r="59.6" fill="url(#gG)"/><circle cx="2486.2" cy="675.0" r="12.5" fill="url(#hG)"/>
<circle cx="2233.3" cy="731.0" r="48.6" fill="url(#gR)"/><circle cx="2234.8" cy="722.3" r="12.5" fill="url(#hR)"/><ellipse cx="2206.6" cy="749.5" rx="12.2" ry="7.3" transform="rotate(-45 2206.6 749.5)" fill="url(#kR)"/>
<circle cx="2398.9" cy="730.0" r="47.0" fill="url(#gR)"/><circle cx="2406.8" cy="721.5" r="12.5" fill="url(#hR)"/><ellipse cx="2373.1" cy="747.9" rx="11.8" ry="7.0" transform="rotate(-45 2373.1 747.9)" fill="url(#kR)"/>
<circle cx="2250.9" cy="571.7" r="43.5" fill="url(#gP)"/><circle cx="2252.9" cy="557.8" r="11.5" fill="url(#hP)"/><ellipse cx="2227.0" cy="588.2" rx="10.9" ry="6.5" transform="rotate(-45 2227.0 588.2)" fill="url(#kP)"/>
<circle cx="2397.0" cy="575.0" r="45.0" fill="url(#gP)"/><circle cx="2404.5" cy="560.6" r="11.5" fill="url(#hP)"/><ellipse cx="2372.2" cy="592.1" rx="11.2" ry="6.8" transform="rotate(-45 2372.2 592.1)" fill="url(#kP)"/>
<circle cx="2324.1" cy="560.5" r="34.8" fill="url(#gB)"/><circle cx="2327.8" cy="549.4" r="10.4" fill="url(#hB)"/><ellipse cx="2305.0" cy="573.7" rx="8.7" ry="5.2" transform="rotate(-45 2305.0 573.7)" fill="url(#kB)"/>
<circle cx="2235.2" cy="600.7" r="41.0" fill="url(#gB)"/><circle cx="2236.6" cy="587.6" r="11.5" fill="url(#hB)"/><ellipse cx="2212.6" cy="616.3" rx="10.2" ry="6.1" transform="rotate(-45 2212.6 616.3)" fill="url(#kB)"/>
<circle cx="2398.6" cy="600.2" r="41.0" fill="url(#gB)"/><circle cx="2405.5" cy="587.1" r="11.5" fill="url(#hB)"/><ellipse cx="2376.0" cy="615.8" rx="10.2" ry="6.1" transform="rotate(-45 2376.0 615.8)" fill="url(#kB)"/>
</g></g>
<g filter="url(#blurT)">
<rect x="137.8" y="22" width="3" height="876.5" fill="#e2e2e2"/>
<rect x="143.8" y="27" width="2.6" height="866" fill="#f0f0f0"/>
<rect x="2521.5" y="27" width="2.6" height="866" fill="#e4e4e4"/>
<rect x="141" y="21.8" width="2386" height="2.7" fill="#828282"/>
<rect x="141" y="24.5" width="2386" height="2.5" fill="#363636"/>
<rect x="141" y="892.9" width="2386" height="2.9" fill="#3a3a3a"/>
<rect x="141" y="895.8" width="2386" height="2.6" fill="#828282"/>
<rect x="140.8" y="22" width="3" height="876.5" fill="#000"/>
<rect x="2524" y="22" width="2.9" height="876.5" fill="#000"/>
<rect x="142" y="869.6" width="10.5" height="3" fill="#111"/>
<rect x="142" y="846.8" width="19.5" height="3" fill="#111"/>
<rect x="142" y="823.9" width="10.5" height="3" fill="#111"/>
<rect x="142" y="801.0" width="19.5" height="3" fill="#111"/>
<rect x="142" y="778.2" width="10.5" height="3" fill="#111"/>
<rect x="142" y="755.3" width="19.5" height="3" fill="#111"/>
<rect x="142" y="732.5" width="10.5" height="3" fill="#111"/>
<rect x="142" y="709.6" width="19.5" height="3" fill="#111"/>
<rect x="142" y="686.7" width="10.5" height="3" fill="#111"/>
<rect x="142" y="663.9" width="19.5" height="3" fill="#111"/>
<rect x="142" y="641.0" width="10.5" height="3" fill="#111"/>
<rect x="142" y="618.1" width="19.5" height="3" fill="#111"/>
<rect x="142" y="595.3" width="10.5" height="3" fill="#111"/>
<rect x="142" y="572.4" width="19.5" height="3" fill="#111"/>
<rect x="142" y="549.5" width="10.5" height="3" fill="#111"/>
<rect x="142" y="526.7" width="19.5" height="3" fill="#111"/>
<rect x="142" y="503.8" width="10.5" height="3" fill="#111"/>
<rect x="142" y="480.9" width="19.5" height="3" fill="#111"/>
<rect x="142" y="458.1" width="10.5" height="3" fill="#111"/>
<rect x="142" y="435.2" width="19.5" height="3" fill="#111"/>
<rect x="142" y="412.4" width="10.5" height="3" fill="#111"/>
<rect x="142" y="389.5" width="19.5" height="3" fill="#111"/>
<rect x="142" y="366.6" width="10.5" height="3" fill="#111"/>
<rect x="142" y="343.8" width="19.5" height="3" fill="#111"/>
<rect x="142" y="320.9" width="10.5" height="3" fill="#111"/>
<rect x="142" y="298.0" width="19.5" height="3" fill="#111"/>
<rect x="142" y="275.2" width="10.5" height="3" fill="#111"/>
<rect x="142" y="252.3" width="19.5" height="3" fill="#111"/>
<rect x="142" y="229.4" width="10.5" height="3" fill="#111"/>
<rect x="142" y="206.6" width="19.5" height="3" fill="#111"/>
<rect x="142" y="183.7" width="10.5" height="3" fill="#111"/>
<rect x="142" y="160.9" width="19.5" height="3" fill="#111"/>
<rect x="142" y="138.0" width="10.5" height="3" fill="#111"/>
<rect x="142" y="115.1" width="19.5" height="3" fill="#111"/>
<rect x="142" y="92.3" width="10.5" height="3" fill="#111"/>
<rect x="142" y="69.4" width="19.5" height="3" fill="#111"/>
<rect x="142" y="46.5" width="10.5" height="3" fill="#111"/>
<text x="125.8" y="904.6" text-anchor="end" class="tk">-80</text>
<text x="125.8" y="813.1" text-anchor="end" class="tk">-60</text>
<text x="125.8" y="721.7" text-anchor="end" class="tk">-40</text>
<text x="125.8" y="630.2" text-anchor="end" class="tk">-20</text>
<text x="125.8" y="538.8" text-anchor="end" class="tk">0</text>
<text x="125.8" y="447.3" text-anchor="end" class="tk">20</text>
<text x="125.8" y="355.9" text-anchor="end" class="tk">40</text>
<text x="125.8" y="264.4" text-anchor="end" class="tk">60</text>
<text x="125.8" y="173.0" text-anchor="end" class="tk">80</text>
<text x="125.8" y="81.5" text-anchor="end" class="tk">100</text>
<rect x="291" y="519.4" width="175.0" height="18.1" fill="#000"/>
<rect x="763.4" y="445.4" width="176.3" height="18.8" fill="#000"/>
<rect x="1237.1" y="485.3" width="175.7" height="19.5" fill="#000"/>
<rect x="1710.1" y="104.4" width="176.0" height="20.4" fill="#000"/>
<rect x="2183.4" y="852.4" width="176.9" height="20.7" fill="#000"/>
<text x="350.8" y="513.5" class="lb" textLength="33.0" lengthAdjust="spacingAndGlyphs">C</text>
<text x="385.0" y="513.5" class="sb" textLength="12.5" lengthAdjust="spacingAndGlyphs">5</text>
<text x="815.8" y="442.0" class="lb" textLength="59.0" lengthAdjust="spacingAndGlyphs">TS</text>
<text x="877.2" y="442.0" class="sb" textLength="13.0" lengthAdjust="spacingAndGlyphs">1</text>
<text x="1292.4" y="477.2" class="lb" textLength="47.5" lengthAdjust="spacingAndGlyphs">IP</text>
<text x="1752.9" y="100.5" class="lb" textLength="59.0" lengthAdjust="spacingAndGlyphs">TS</text>
<text x="1815.1" y="100.5" class="sb" textLength="13.6" lengthAdjust="spacingAndGlyphs">2</text>
<text x="2246.3" y="848.2" class="lb" textLength="33.0" lengthAdjust="spacingAndGlyphs">C</text>
<text x="2281.3" y="848.2" class="sb" textLength="13.1" lengthAdjust="spacingAndGlyphs">9</text>
<text x="0" y="0" class="en" text-anchor="middle" textLength="195.0" lengthAdjust="spacingAndGlyphs" transform="translate(612.4 474.0) rotate(-12.97)">16.1 kJ/mol</text>
<text x="0" y="0" class="en" text-anchor="middle" textLength="188.0" lengthAdjust="spacingAndGlyphs" transform="translate(1091.2 460.1) rotate(7.0)">-8.7 kJ/mol</text>
<text x="0" y="0" class="en" text-anchor="middle" textLength="194.2" lengthAdjust="spacingAndGlyphs" transform="translate(1518.6 317.0) rotate(-51.0)">83.0 kJ/mol</text>
<text x="0" y="0" class="en" text-anchor="middle" textLength="228.0" lengthAdjust="spacingAndGlyphs" transform="translate(2042.4 443.0) rotate(67.4)">-166.7 kJ/mol</text>
<text x="0" y="0" class="yl" textLength="276" lengthAdjust="spacingAndGlyphs" transform="translate(53.2 694) rotate(-90)">Relative energy</text>
<text x="0" y="0" class="yl" textLength="114" lengthAdjust="spacingAndGlyphs" transform="translate(53.2 373.6) rotate(-90)">kJ/mol</text>
<path d="M22.8 379.6 Q37.8 404.4 52.8 379.6" fill="none" stroke="#222" stroke-width="1.7"/>
<path d="M22.8 250.6 Q37.8 225.8 52.8 250.6" fill="none" stroke="#222" stroke-width="1.7"/>
<circle cx="237.7" cy="841.3" r="34" fill="url(#LG)"/>
<circle cx="504.3" cy="839.4" r="33.6" fill="url(#LR)"/>
<circle cx="740.7" cy="839.6" r="28" fill="url(#LP)"/>
<circle cx="745.5" cy="835.5" r="6" fill="url(#hP)"/>
<ellipse cx="729.5" cy="853.5" rx="5.5" ry="4" fill="url(#hP)"/>
<ellipse cx="734" cy="818.5" rx="5" ry="2.6" transform="rotate(-25 734 818.5)" fill="url(#hP)"/>
<circle cx="1032.8" cy="837.4" r="27.2" fill="url(#LB)"/>
<text x="294" y="851.6" class="lg" textLength="156.2" lengthAdjust="spacingAndGlyphs">Ca(CaO)</text>
<text x="554.3" y="851.6" class="lg" textLength="139.5" lengthAdjust="spacingAndGlyphs">O(CaO)</text>
<text x="799" y="851" class="lg" textLength="110" lengthAdjust="spacingAndGlyphs">As(As</text>
<text x="910.5" y="851" class="ls" textLength="11.5" lengthAdjust="spacingAndGlyphs">2</text>
<text x="923" y="851" class="lg" textLength="32" lengthAdjust="spacingAndGlyphs">O</text>
<text x="955.5" y="851" class="ls" textLength="11.5" lengthAdjust="spacingAndGlyphs">3</text>
<text x="968" y="851" class="lg" textLength="12.5" lengthAdjust="spacingAndGlyphs">)</text>
<text x="1079.5" y="851" class="lg" textLength="93" lengthAdjust="spacingAndGlyphs">O(As</text>
<text x="1174" y="851" class="ls" textLength="11.5" lengthAdjust="spacingAndGlyphs">2</text>
<text x="1186.5" y="851" class="lg" textLength="32" lengthAdjust="spacingAndGlyphs">O</text>
<text x="1219" y="851" class="ls" textLength="11.5" lengthAdjust="spacingAndGlyphs">3</text>
<text x="1231" y="851" class="lg" textLength="12.5" lengthAdjust="spacingAndGlyphs">)</text>
</g>
</svg>
</body></html>
